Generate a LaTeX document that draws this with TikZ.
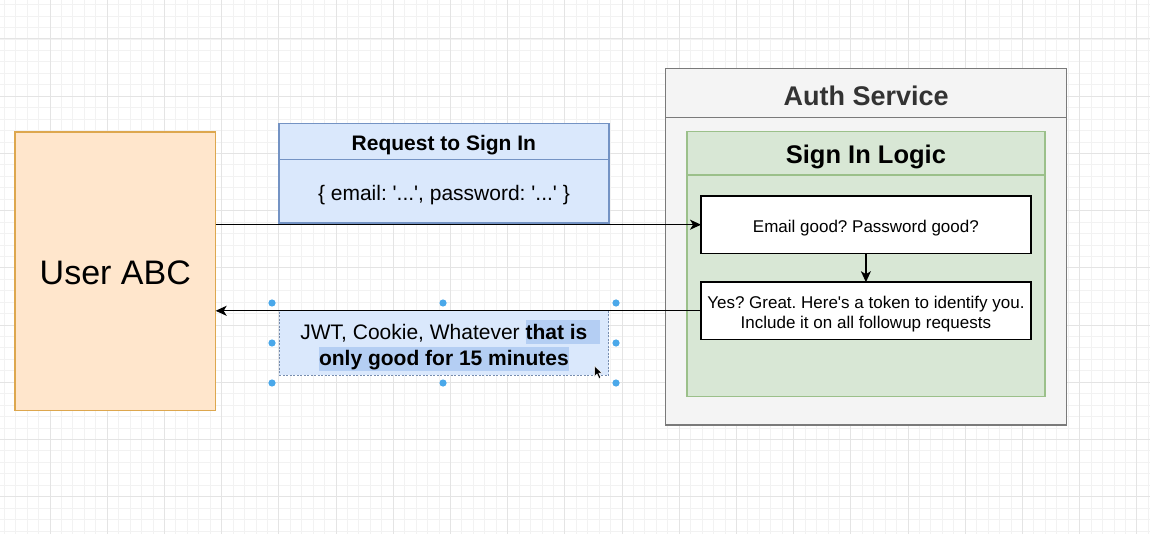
\documentclass[tikz,border=0pt]{standalone}
\usepackage{fontspec}
\setmainfont{Liberation Sans}[Ligatures=TeXOff]
\usetikzlibrary{positioning,arrows.meta}
\frenchspacing

\definecolor{userfill}{HTML}{FFE6CC}
\definecolor{userline}{HTML}{DDA74E}
\definecolor{reqfill}{HTML}{DAE8FC}
\definecolor{reqline}{HTML}{7493C4}
\definecolor{authfill}{HTML}{F4F4F4}
\definecolor{authline}{HTML}{7A7A7A}
\definecolor{logicfill}{HTML}{D8E7D5}
\definecolor{logicline}{HTML}{9BC08A}
\definecolor{hilite}{HTML}{B4CEF3}
\definecolor{handle}{HTML}{4AA8EA}
\definecolor{gridminor}{HTML}{F2F2F2}
\definecolor{gridmajor}{HTML}{E4E4E4}

% selected text in the token box
\newcommand{\hl}[1]{{\setlength{\fboxsep}{0pt}\colorbox{hilite}{\rule[-0.22em]{0pt}{1.13em}#1}}}

\begin{document}
\begin{tikzpicture}[x=1pt, y=-1pt,
    box/.style={draw, inner sep=0pt, outer sep=0pt, line width=1.5pt, align=center},
    userbox/.style={box, fill=userfill, draw=userline, minimum width=200.7pt, minimum height=278.7pt, text height=27.4pt, text depth=0pt, font=\fontsize{34}{40}\selectfont},
    reqhead/.style={box, fill=reqfill, draw=reqline, minimum width=329.7pt, minimum height=36pt, text height=18.8pt, text depth=0pt, font=\fontsize{21}{25}\selectfont\bfseries},
    reqbody/.style={box, fill=reqfill, draw=reqline, minimum width=329.7pt, minimum height=63.7pt, text height=18.6pt, text depth=0pt, font=\fontsize{21}{25}\selectfont},
    authbox/.style={box, fill=authfill, draw=authline, minimum width=401pt, minimum height=356.7pt},
    authhead/.style={box, fill=authfill, draw=authline, minimum width=401pt, minimum height=49.4pt, text height=24pt, text depth=0pt, text=black!80, font=\fontsize{27}{32}\selectfont\bfseries},
    logicbox/.style={box, fill=logicfill, draw=logicline, minimum width=358.3pt, minimum height=265pt},
    logichead/.style={box, fill=logicfill, draw=logicline, minimum width=358.3pt, minimum height=43.3pt, text height=21.3pt, text depth=0pt, font=\fontsize{25.5}{30}\selectfont\bfseries},
    stepbox/.style={box, fill=white, draw=black, minimum width=329.7pt, minimum height=57.2pt, font=\fontsize{17}{20}\selectfont},
    jwtbox/.style={box, fill=reqfill, draw=reqline!70!gray, line width=0.8pt, dash pattern=on 2pt off 1.5pt, minimum width=329.7pt, minimum height=64.3pt, font=\fontsize{21}{25}\selectfont},
    conn/.style={-{Stealth[length=11pt,width=10pt,inset=3pt]}, line width=1.4pt}
  ]
    \useasboundingbox (0,0) rectangle (1150,534);
    \fill[white] (0,0) rectangle (1150,534);

    % background grid
    \foreach \i in {0,...,100} \draw[gridminor, line width=0.8pt] ({4.24+11.44*\i},0) -- ({4.24+11.44*\i},534);
    \foreach \i in {0,...,46} \draw[gridminor, line width=0.8pt] (0,{4.68+11.44*\i}) -- (1150,{4.68+11.44*\i});
    \foreach \i in {0,...,19} \draw[gridmajor, line width=1pt] ({50+57.2*\i},0) -- ({50+57.2*\i},534);
    \foreach \i in {0,...,8} \draw[gridmajor, line width=1pt] (0,{39+57.2*\i}) -- (1150,{39+57.2*\i});

    \node[userbox] (user) at (115.3,271.3) {User ABC};

    \node[reqhead] (reqtitle) at (443.9,141.3) {Request to Sign In};
    \node[reqbody, below=0pt of reqtitle] (reqbody) {\{ email: '...', password: '...' \}};

    \node[authbox] (auth) at (866.2,246.7) {};
    \node[authhead, anchor=north] (authtitle) at (auth.north) {Auth Service};
    \node[logicbox] (logic) at (865.9,264.2) {};
    \node[logichead, anchor=north] (logictitle) at (logic.north) {Sign In Logic};

    \node[stepbox, text height=15.2pt, text depth=0pt] (check) at (865.9,224.7) {Email good? Password good?};
    \node[stepbox, text height=10pt, text depth=15pt] (grant) at (865.9,310.8)
        {\begin{tabular}[t]{@{}c@{}}Yes? Great. Here's a token to identify you.\\ Include it on all followup requests\end{tabular}};

    \node[jwtbox, text height=10pt, text depth=17.2pt] (token) at (443.9,342.9)
        {\begin{tabular}[t]{@{}c@{}}JWT, Cookie, Whatever \hl{\textbf{that is}\hspace{13pt}}\kern-13pt\\ \hl{\textbf{only good for 15 minutes}}\end{tabular}};

    \draw[conn] (user.east |- check.west) -- (check.west);
    \draw[conn] (check) -- (grant);
    \draw[conn] (grant.west) -- (user.east |- grant.west);

    % selection handles and pointer
    \foreach \hx/\hy in {272/303, 443/303, 616/303, 272/343, 616/343, 272/383, 443/383, 616/383}
        \fill[handle] (\hx,\hy) circle (3.6pt);
    \filldraw[fill=black, draw=white, line width=0.5pt] (594.5,366) -- (594.5,376.5) -- (597,374) -- (599,378.5) -- (600.8,377.7) -- (598.8,373.2) -- (602.3,373.2) -- cycle;
\end{tikzpicture}
\end{document}
